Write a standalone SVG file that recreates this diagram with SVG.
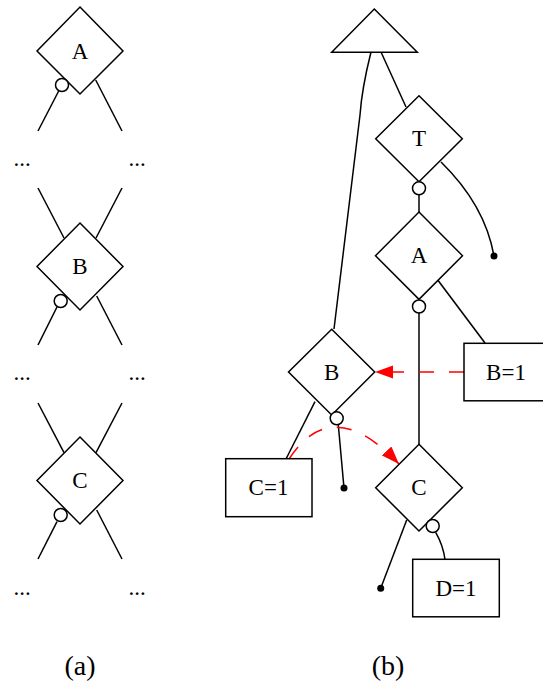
<svg xmlns="http://www.w3.org/2000/svg" width="543" height="690" viewBox="0 0 543 690">
<style>
.sh{fill:#fff;stroke:#000;stroke-width:1.5}
.ln{fill:none;stroke:#000;stroke-width:1.5}
.rd{fill:none;stroke:#f00;stroke-width:1.5;stroke-dasharray:15,15}
.dot{fill:#000}
text{font-family:"Liberation Serif","Times New Roman",serif;font-size:23px;fill:#000;text-anchor:middle}
.cap{font-size:28px}
</style>
<defs>
<marker id="ah" markerUnits="userSpaceOnUse" markerWidth="19" markerHeight="14" refX="18" refY="6.5" orient="auto">
<path d="M0,0 L18,6.5 L0,13 z" fill="#f00"/>
</marker>
</defs>
<rect width="543" height="690" fill="#fff"/>
<g id="connectors">
<line class="ln" x1="58.7" y1="91" x2="38" y2="131"/>
<line class="ln" x1="95.7" y1="80" x2="122" y2="131"/>
<line class="ln" x1="38" y1="188" x2="64" y2="238"/>
<line class="ln" x1="122" y1="188" x2="96" y2="238"/>
<line class="ln" x1="57" y1="307" x2="38" y2="345"/>
<line class="ln" x1="96.7" y1="296" x2="122" y2="345"/>
<line class="ln" x1="38" y1="403" x2="64" y2="452.7"/>
<line class="ln" x1="122" y1="403" x2="96" y2="452.7"/>
<line class="ln" x1="57" y1="521.7" x2="38" y2="559"/>
<line class="ln" x1="96.7" y1="510" x2="122" y2="559"/>
<path class="ln" d="M371,52 C364,80 361,100 360,115 L334,329"/>
<line class="ln" x1="381" y1="52" x2="406" y2="107"/>
<line class="ln" x1="419" y1="195" x2="419" y2="212"/>
<path class="ln" d="M441,162 Q485,205 494,256"/>
<line class="ln" x1="419" y1="313" x2="419" y2="444.5"/>
<line class="ln" x1="437" y1="279" x2="485" y2="343"/>
<line class="ln" x1="338.3" y1="425" x2="344" y2="488"/>
<line class="ln" x1="315" y1="401.7" x2="286" y2="459"/>
<path class="ln" d="M435.7,532.3 Q443,545 445,559.3"/>
<line class="ln" x1="406.7" y1="520" x2="380.7" y2="588.3"/>
<circle class="dot" cx="494" cy="256" r="3.5"/>
<circle class="dot" cx="344" cy="488" r="3.5"/>
<circle class="dot" cx="380.7" cy="588.3" r="3.5"/>
<line class="rd" x1="464" y1="372" x2="375" y2="372" marker-end="url(#ah)"/>
<path class="rd" d="M289,459 Q332,393 399,464" marker-end="url(#ah)"/>
</g>
<g id="nodeA_a">
<polygon class="sh" points="80,7 123,51 80,94 37,51"/>
<text x="80" y="58.5">A</text>
<circle class="sh" cx="62" cy="85" r="6.5"/>
</g>
<g id="nodeB_a">
<polygon class="sh" points="80,223 123,266.5 80,310 37,266.5"/>
<text x="80" y="274">B</text>
<circle class="sh" cx="60.7" cy="301" r="6.5"/>
</g>
<g id="nodeC_a">
<polygon class="sh" points="80,437 123,480.5 80,524 37,480.5"/>
<text x="80" y="488">C</text>
<circle class="sh" cx="60.7" cy="515" r="6.5"/>
</g>
<g id="dots_a">
<text x="22" y="166">...</text>
<text x="137" y="166">...</text>
<text x="22" y="380">...</text>
<text x="137" y="380">...</text>
<text x="22" y="595">...</text>
<text x="137" y="595">...</text>
</g>
<g id="tri">
<polygon class="sh" points="374.3,9 417.3,52.3 331.7,52.3"/>
</g>
<g id="nodeT">
<polygon class="sh" points="419,95.7 462.3,138.7 419,181.7 375.7,138.7"/>
<text x="419" y="145.5">T</text>
<circle class="sh" cx="419" cy="188.3" r="6.5"/>
</g>
<g id="nodeA_b">
<polygon class="sh" points="419,212 462.5,255.7 419,299.4 375.5,255.7"/>
<text x="419" y="263">A</text>
<circle class="sh" cx="419" cy="306.5" r="6.5"/>
</g>
<g id="nodeB_b">
<polygon class="sh" points="331.7,329.3 374.7,372 331.7,415 288.5,372"/>
<text x="331.7" y="379.5">B</text>
<circle class="sh" cx="336.7" cy="418.3" r="6.5"/>
</g>
<g id="nodeC_b">
<polygon class="sh" points="419,444.3 462.3,487.7 419,531 375.7,487.7"/>
<text x="419" y="495">C</text>
<circle class="sh" cx="432.7" cy="526" r="6.5"/>
</g>
<g id="boxB1">
<rect class="sh" x="464" y="343.3" width="86" height="57.5"/>
<text x="506" y="379.5">B=1</text>
</g>
<g id="boxC1">
<rect class="sh" x="225.7" y="458.7" width="86.3" height="58"/>
<text x="268.5" y="495">C=1</text>
</g>
<g id="boxD1">
<rect class="sh" x="412.7" y="559.3" width="86.6" height="57.5"/>
<text x="456" y="596">D=1</text>
</g>
<g id="captions">
<text class="cap" x="80" y="675">(a)</text>
<text class="cap" x="388" y="675">(b)</text>
</g>
</svg>
